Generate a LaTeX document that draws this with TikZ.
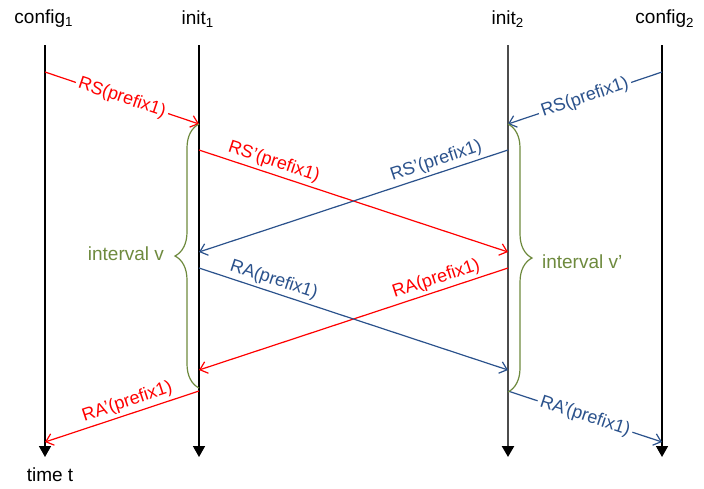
\documentclass[tikz,border=0pt]{standalone}
\usepackage{fontspec}
\setmainfont{Liberation Sans}
\usetikzlibrary{positioning,arrows.meta,decorations.pathreplacing}
\definecolor{msgred}{RGB}{255,0,0}
\definecolor{msgblue}{RGB}{43,82,140}
\definecolor{ivgreen}{RGB}{110,138,62}
\tikzset{
    life/.style={line width=0.75pt, -{Triangle[width=6pt,length=5.5pt,color=black]}},
    msg/.style={line width=0.6pt, -{Straight Barb[length=3.5pt,width=6pt]}},
    lbl/.style={font=\fontsize{9}{10}\selectfont, sloped, inner sep=1.5pt},
    head/.style={font=\fontsize{9.5}{11}\selectfont},
    ivbrace/.style={ivgreen, line width=0.6pt, decorate,
        decoration={brace, amplitude=12pt}},
}

\begin{document}
\begin{tikzpicture}[x=0.5pt,y=-0.5pt]
    \useasboundingbox (0,0) rectangle (704,488);
    \begin{scope} % Lifelines
        \node[head] (cfgA) at (44,19) {config\textsubscript{1}};
        \node[head] (initA) at (198,19) {init\textsubscript{1}};
        \node[head] (initB) at (508,19) {init\textsubscript{2}};
        \node[head] (cfgB) at (665,19) {config\textsubscript{2}};
        \node[head] (time) at (50,475) {time t};
        \coordinate (cAt) at (45,45);
        \coordinate (cAb) at (45,457);
        \coordinate (iAt) at (199,45);
        \coordinate (iAb) at (199,457);
        \coordinate (iBt) at (508,45);
        \coordinate (iBb) at (508,457);
        \coordinate (cBt) at (662,45);
        \coordinate (cBb) at (662,457);
        \draw[life] (cAt) -- (cAb);
        \draw[life] (iAt) -- (iAb);
        \draw[life] (cBt) -- (cBb);
        \draw[life, black!70, line width=1.2pt] (iBt) -- (iBb);
    \end{scope}
    \begin{scope} % Message ends
        \coordinate (cA1) at (45,72);
        \coordinate (cA2) at (45,442);
        \coordinate (cB1) at (662,72);
        \coordinate (cB2) at (662,442);
        \foreach \n/\y in {1/124, 2/150, 3/252, 4/268, 5/370, 6/391} {
            \coordinate (iA\n) at (199,\y);
            \coordinate (iB\n) at (508,\y);
        }
        \coordinate (iA7) at (199,388);
        \coordinate (iB7) at (508,392);
    \end{scope}
    \begin{scope}[msgred] % Messages from the left
        \draw[msg] (cA1) -- node[lbl, fill=white] {RS(prefix1)} (iA1);
        \draw[msg] (iA2) -- node[lbl, above, pos=0.23] {RS'(prefix1)} (iB3);
        \draw[msg] (iB4) -- node[lbl, above, pos=0.22] {RA(prefix1)} (iA5);
        \draw[msg] (iA6) -- node[lbl, above, pos=0.44] {RA'(prefix1)} (cA2);
    \end{scope}
    \begin{scope}[msgblue] % Messages from the right
        \draw[msg] (cB1) -- node[lbl, fill=white] {RS(prefix1)} (iB1);
        \draw[msg] (iB2) -- node[lbl, above, pos=0.22] {RS'(prefix1)} (iA3);
        \draw[msg] (iA4) -- node[lbl, above, pos=0.23] {RA(prefix1)} (iB5);
        \draw[msg] (iB6) -- node[lbl, fill=white] {RA'(prefix1)} (cB2);
    \end{scope}
    \begin{scope} % Intervals
        \draw[ivbrace] (iA7) -- (iA1);
        \draw[ivbrace] (iB1) -- (iB7);
        \node[head, ivgreen, anchor=east] (ivA) at (171,254) {interval v};
        \node[head, ivgreen, anchor=west] (ivB) at (535,262) {interval v'};
    \end{scope}
\end{tikzpicture}
\end{document}
